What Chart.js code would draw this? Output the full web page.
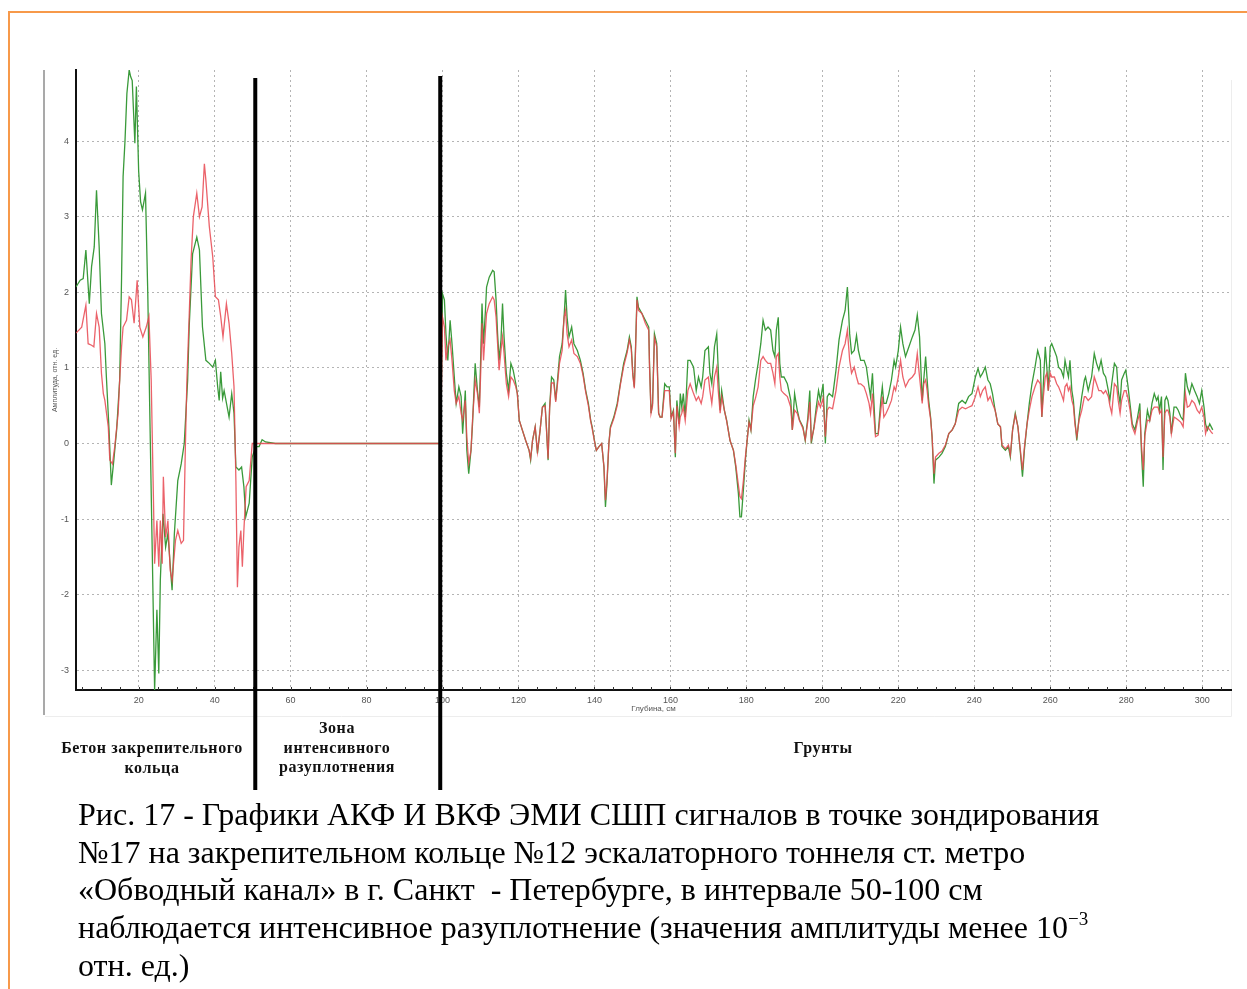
<!DOCTYPE html>
<html>
<head>
<meta charset="utf-8">
<title>АКФ и ВКФ ЭМИ СШП сигналов</title>
<script src="https://cdn.jsdelivr.net/npm/chart.js@4.4.1/dist/chart.umd.min.js"></script>
<style>
  body { margin: 0; background: #fff; }
  #page { position: relative; width: 1247px; height: 989px; overflow: hidden; }
  #frame { position: absolute; left: 8px; top: 11px; width: 1260px; height: 1000px;
           border-top: 2px solid #f7994a; border-left: 2px solid #f7994a; }
  #chart { position: absolute; left: 0; top: 0; }
  .zone { position: absolute; font: bold 16px "Liberation Serif", "DejaVu Serif", serif;
          letter-spacing: 0.6px; text-align: center; line-height: 19.5px; color: #111; }
  .caption { position: absolute; left: 78px; top: 796px; font: 32px "Liberation Serif", serif;
             line-height: 37.7px; color: #000; white-space: pre; }
  .caption sup { font-size: 19px; vertical-align: 13px; line-height: 0; }
</style>
</head>
<body>
<div id="page">
  <div id="frame"></div>
  <canvas id="chart" width="1247" height="989"></canvas>

  <div class="zone" style="left:22px; top:738px; width:260px;">Бетон закрепительного<br>кольца</div>
  <div class="zone" style="left:257px; top:718px; width:160px;">Зона<br>интенсивного<br>разуплотнения</div>
  <div class="zone" style="left:763px; top:738px; width:120px;">Грунты</div>

  <div class="caption">Рис. 17 - Графики АКФ И ВКФ ЭМИ СШП сигналов в точке зондирования
№17 на закрепительном кольце №12 эскалаторного тоннеля ст. метро
«Обводный канал» в г. Санкт  - Петербурге, в интервале 50-100 см
наблюдается интенсивное разуплотнение (значения амплитуды менее 10<sup>−3</sup>
отн. ед.)</div>
</div>

<script>
// Глубина, см — for each trace
const vkfDepth = [
  3.5, 4.6, 5.4, 6.1, 7.0, 7.6, 8.3, 8.9, 9.6, 10.2, 11.1, 11.5, 12.2, 12.8, 13.5, 14.2, 15.0, 15.5, 15.9, 16.4,
  16.9, 17.5, 17.9, 18.3, 19.0, 19.4, 20.0, 20.5, 21.0, 21.8, 22.4, 22.9, 23.6, 24.2, 24.8, 25.3, 25.7, 26.4, 27.1, 27.7,
  28.6, 28.8, 29.4, 30.3, 31.2, 32.0, 32.9, 33.3, 34.2, 35.3, 36.0, 36.8, 37.7, 38.6, 39.5, 40.2, 40.8, 41.2, 41.6, 42.1,
  42.5, 43.8, 44.5, 45.1, 45.6, 46.4, 47.1, 47.7, 48.2, 49.1, 49.9, 50.8, 51.7, 52.5, 53.4, 56.0, 99.5,
  100.0, 100.5, 100.9, 101.4, 102.0, 102.5, 103.1, 103.6, 104.3, 104.9, 105.3, 106.0, 106.4, 106.9, 107.5, 107.9, 108.6, 109.2, 109.7, 110.1,
  110.4, 110.8, 111.3, 111.6, 112.3, 113.2, 113.6, 114.1, 114.5, 114.9, 115.4, 115.8, 116.2, 116.8, 117.4, 118.0, 118.6, 119.3, 119.7, 120.2,
  121.0, 121.9, 122.8, 123.2, 123.7, 124.4, 125.0, 125.7, 126.3, 127.0, 127.3, 127.8, 128.2, 128.7, 129.3, 129.8, 130.2, 130.8, 131.5, 132.0,
  132.4, 132.8, 133.3, 134.0, 134.6, 135.5, 136.3, 137.0, 137.7, 138.4, 139.0, 139.4, 140.0, 140.5, 141.2, 141.9, 142.5, 142.9, 143.3, 143.8,
  144.2, 145.1, 146.0, 146.8, 147.7, 148.6, 149.2, 149.7, 150.1, 150.5, 150.8, 151.2, 151.6, 152.5, 153.4, 154.3, 154.5, 154.9, 155.3, 155.8,
  156.4, 156.9, 157.3, 157.8, 158.5, 159.1, 159.7, 160.2, 160.8, 161.3, 161.7, 162.3, 162.6, 163.0, 163.4, 163.9, 164.6, 165.2, 166.1, 166.8,
  167.4, 168.1, 168.5, 169.1, 170.0, 170.4, 170.9, 171.6, 172.2, 172.6, 173.1, 173.5, 174.2, 174.8, 175.7, 176.6, 177.2, 177.9, 178.3, 178.7,
  179.2, 179.8, 180.3, 180.7, 181.2, 181.8, 182.4, 183.1, 183.8, 184.4, 185.0, 185.7, 186.4, 187.0, 187.5, 187.9, 188.4, 188.8, 189.2, 189.9,
  190.8, 191.7, 192.1, 192.7, 193.4, 194.0, 194.9, 195.5, 196.2, 196.7, 197.1, 197.8, 198.4, 199.0, 199.5, 200.2, 200.8, 201.3, 201.8, 202.7,
  203.6, 204.4, 205.3, 206.0, 206.6, 207.2, 207.7, 208.4, 209.0, 209.5, 210.1, 211.0, 211.6, 212.3, 212.7, 213.2, 213.6, 214.0, 214.7, 215.4,
  215.8, 216.2, 216.8, 217.5, 218.2, 218.9, 219.3, 220.0, 220.6, 221.2, 221.9, 222.8, 223.7, 224.4, 225.0, 225.6, 226.3, 226.7, 227.2, 227.6,
  228.0, 228.5, 228.9, 229.4, 229.8, 230.7, 231.5, 232.4, 233.3, 234.2, 235.0, 235.9, 236.8, 237.7, 238.5, 239.4, 240.3, 241.0, 241.6, 242.2,
  242.9, 243.6, 244.2, 244.8, 245.5, 246.2, 246.9, 247.3, 248.2, 249.0, 249.5, 250.1, 250.8, 251.5, 252.1, 252.7, 253.2, 253.9, 254.5, 255.2,
  256.0, 256.7, 257.4, 257.8, 258.2, 258.7, 259.1, 259.5, 260.0, 260.4, 261.1, 261.7, 262.2, 262.9, 263.5, 263.9, 264.4, 264.8, 265.2, 265.7,
  266.1, 266.5, 267.0, 267.6, 268.3, 269.0, 269.3, 270.0, 270.9, 271.6, 272.2, 272.8, 273.4, 274.0, 274.6, 275.3, 275.7, 276.2, 276.9, 277.5,
  277.9, 278.4, 278.8, 279.5, 279.9, 280.4, 281.0, 281.6, 282.3, 283.0, 283.6, 284.0, 284.5, 284.9, 285.6, 286.2, 286.8, 287.4, 288.0, 288.4,
  288.8, 289.3, 289.7, 290.2, 290.6, 291.0, 291.5, 291.9, 292.6, 293.2, 293.7, 294.4, 295.0, 295.6, 296.1, 296.7, 297.3, 298.0, 298.7, 299.3,
  299.9, 300.5, 300.9, 301.4, 302.0, 302.4, 302.8
];
// ВКФ, отн. ед. (green trace)
const vkfAmp = [
  2.07, 2.16, 2.18, 2.56, 1.85, 2.34, 2.6, 3.35, 2.6, 1.72, 1.32, 0.88, 0.18, -0.55, -0.2, 0.18, 0.84, 2.2, 3.53, 4.0,
  4.63, 4.94, 4.85, 4.8, 3.97, 4.72, 3.6, 3.2, 3.09, 3.31, 1.98, 0.5, -1.5, -3.26, -2.2, -3.04, -1.81, -0.93, -1.37, -1.19,
  -1.81, -1.94, -1.19, -0.49, -0.27, 0.0, 0.84, 1.54, 2.51, 2.73, 2.56, 1.54, 1.1, 1.06, 1.01, 1.1, 0.75, 0.57, 0.95, 0.6,
  0.7, 0.35, 0.66, 0.4, -0.31, -0.35, -0.31, -0.57, -0.97, -0.79, -0.18, -0.04, -0.04, 0.05, 0.02, 0.0, 0.0,
  1.98, 1.9, 1.45, 1.1, 1.63, 1.32, 0.88, 0.53, 0.75, 0.62, 0.13, 0.7, -0.09, -0.4, -0.09, 0.26, 1.06, 0.7, 0.48, 1.23,
  1.85, 1.32, 1.76, 2.07, 2.2, 2.29, 2.27, 1.9, 1.45, 1.1, 1.37, 1.85, 1.41, 0.93, 0.7, 1.06, 0.97, 0.79, 0.66, 0.31,
  0.18, 0.04, -0.09, -0.22, 0.04, 0.22, -0.13, 0.18, 0.48, 0.53, 0.26, -0.22, 0.48, 0.88, 0.84, 0.57, 0.79, 1.15, 1.32, 1.67,
  2.03, 1.67, 1.41, 1.54, 1.32, 1.23, 1.1, 0.93, 0.7, 0.53, 0.31, 0.22, 0.04, -0.09, -0.04, 0.0, -0.31, -0.84, -0.53, 0.0,
  0.22, 0.35, 0.53, 0.79, 1.06, 1.23, 1.41, 1.28, 0.93, 0.75, 1.23, 1.94, 1.8, 1.72, 1.63, 1.54, 1.06, 0.4, 0.53, 1.45,
  1.32, 0.4, 0.35, 0.35, 0.79, 0.75, 0.75, 0.35, 0.44, -0.18, 0.57, 0.26, 0.66, 0.48, 0.66, 0.35, 1.1, 1.1, 1.01, 0.7,
  0.88, 0.75, 0.88, 1.23, 1.28, 0.93, 0.79, 1.28, 1.45, 0.97, 0.44, 0.7, 0.44, 0.31, 0.04, -0.09, -0.31, -0.66, -0.97, -0.97,
  -0.62, -0.18, 0.09, 0.31, 0.18, 0.62, 0.84, 1.06, 1.32, 1.63, 1.5, 1.54, 1.5, 1.23, 1.15, 1.5, 1.67, 1.06, 0.88, 0.88,
  0.79, 0.57, 0.18, 0.66, 0.44, 0.31, 0.22, 0.04, 0.35, 0.7, 0.0, 0.22, 0.48, 0.7, 0.57, 0.79, 0.0, 0.62, 0.66, 0.62,
  0.97, 1.37, 1.63, 1.76, 2.07, 1.45, 1.19, 1.23, 1.43, 1.23, 1.1, 1.1, 1.01, 0.75, 0.62, 0.93, 0.53, 0.13, 0.13, 0.57,
  0.75, 0.53, 0.53, 0.66, 0.84, 1.1, 1.01, 1.23, 1.54, 1.32, 1.15, 1.28, 1.41, 1.5, 1.7, 1.41, 0.57, 0.84, 1.15, 0.84,
  0.57, 0.35, 0.09, -0.53, -0.22, -0.18, -0.13, -0.04, 0.13, 0.18, 0.26, 0.53, 0.57, 0.53, 0.62, 0.66, 0.88, 0.99, 0.88, 0.93,
  1.01, 0.84, 0.79, 0.66, 0.44, 0.26, 0.22, -0.04, -0.09, -0.04, -0.18, 0.18, 0.4, 0.22, -0.09, -0.44, -0.09, 0.26, 0.53, 0.79,
  1.01, 1.23, 1.1, 0.35, 0.79, 1.28, 1.01, 0.7, 1.28, 1.32, 1.23, 1.15, 1.01, 0.97, 0.88, 1.1, 0.97, 0.88, 1.1, 0.7,
  0.57, 0.31, 0.04, 0.35, 0.62, 0.84, 0.88, 0.7, 0.88, 1.19, 1.06, 0.97, 1.1, 0.93, 0.88, 0.7, 0.57, 0.79, 1.06, 1.01,
  0.7, 0.53, 0.84, 0.93, 0.97, 0.79, 0.53, 0.26, 0.18, 0.35, 0.53, -0.09, -0.57, 0.13, 0.44, 0.31, 0.53, 0.66, 0.57, 0.62,
  0.44, 0.62, -0.35, 0.57, 0.62, 0.57, 0.4, 0.13, 0.48, 0.48, 0.44, 0.35, 0.31, 0.93, 0.75, 0.66, 0.79, 0.7, 0.62, 0.53,
  0.7, 0.48, 0.26, 0.18, 0.26, 0.22, 0.18
];

const akfDepth = [
  3.5, 5.0, 6.1, 6.7, 7.6, 8.2, 8.9, 9.6, 10.2, 10.7, 11.1, 12.0, 12.4, 13.1, 13.7, 14.6, 15.0, 15.5, 15.9, 16.8,
  17.5, 18.1, 18.8, 19.6, 20.3, 21.1, 22.0, 22.7, 23.3, 23.8, 24.2, 24.8, 25.3, 25.7, 26.2, 26.5, 27.1, 27.7, 28.3, 28.8,
  29.7, 30.3, 31.2, 31.8, 32.3, 32.7, 33.2, 33.8, 34.4, 35.3, 36.0, 36.7, 37.3, 37.7, 38.6, 39.5, 40.2, 41.0, 41.6, 42.2,
  43.1, 43.8, 44.5, 45.1, 45.6, 46.0, 46.4, 46.9, 47.3, 47.7, 48.3, 49.1, 49.9, 99.5,
  100.0, 100.5, 100.9, 101.4, 102.0, 102.5, 103.1, 103.6, 104.3, 104.9, 105.3, 106.0, 106.4, 106.9, 107.5, 107.9, 108.6, 109.2, 109.7, 110.1,
  110.4, 110.8, 111.3, 111.6, 112.3, 113.2, 113.6, 114.1, 114.5, 114.9, 115.4, 115.8, 116.2, 116.8, 117.4, 118.0, 118.6, 119.3, 119.7, 120.2,
  121.0, 121.9, 122.8, 123.2, 123.7, 124.4, 125.0, 125.7, 126.3, 127.0, 127.3, 127.8, 128.2, 128.7, 129.3, 129.8, 130.2, 130.8, 131.5, 132.0,
  132.4, 132.8, 133.3, 134.0, 134.6, 135.5, 136.3, 137.0, 137.7, 138.4, 139.0, 139.4, 140.0, 140.5, 141.2, 141.9, 142.5, 142.9, 143.3, 143.8,
  144.2, 145.1, 146.0, 146.8, 147.7, 148.6, 149.2, 149.7, 150.1, 150.5, 150.8, 151.2, 151.6, 152.5, 153.4, 154.3, 154.5, 154.9, 155.3, 155.8,
  156.4, 156.9, 157.3, 157.8, 158.5, 159.1, 159.7, 160.2, 160.8, 161.3, 161.7, 162.3, 162.6, 163.0, 163.4, 163.9, 164.6, 165.2, 166.1, 166.8,
  167.4, 168.1, 168.5, 169.1, 170.0, 170.4, 170.9, 171.6, 172.2, 172.6, 173.1, 173.5, 174.2, 174.8, 175.7, 176.6, 177.2, 177.9, 178.3, 178.7,
  179.2, 179.8, 180.3, 180.7, 181.2, 181.8, 182.4, 183.1, 183.8, 184.4, 185.0, 185.7, 186.4, 187.0, 187.5, 187.9, 188.4, 188.8, 189.2, 189.9,
  190.8, 191.7, 192.1, 192.7, 193.4, 194.0, 194.9, 195.5, 196.2, 196.7, 197.1, 197.8, 198.4, 199.0, 199.5, 200.2, 200.8, 201.3, 201.8, 202.7,
  203.6, 204.4, 205.3, 206.0, 206.6, 207.2, 207.7, 208.4, 209.0, 209.5, 210.1, 211.0, 211.6, 212.3, 212.7, 213.2, 213.6, 214.0, 214.7, 215.4,
  215.8, 216.2, 216.8, 217.5, 218.2, 218.9, 219.3, 220.0, 220.6, 221.2, 221.9, 222.8, 223.7, 224.4, 225.0, 225.6, 226.3, 226.7, 227.2, 227.6,
  228.0, 228.5, 228.9, 229.4, 229.8, 230.7, 231.5, 232.4, 233.3, 234.2, 235.0, 235.9, 236.8, 237.7, 238.5, 239.4, 240.3, 241.0, 241.6, 242.2,
  242.9, 243.6, 244.2, 244.8, 245.5, 246.2, 246.9, 247.3, 248.2, 249.0, 249.5, 250.1, 250.8, 251.5, 252.1, 252.7, 253.2, 253.9, 254.5, 255.2,
  256.0, 256.7, 257.4, 257.8, 258.2, 258.7, 259.1, 259.5, 260.0, 260.4, 261.1, 261.7, 262.2, 262.9, 263.5, 263.9, 264.4, 264.8, 265.2, 265.7,
  266.1, 266.5, 267.0, 267.6, 268.3, 269.0, 269.3, 270.0, 270.9, 271.6, 272.2, 272.8, 273.4, 274.0, 274.6, 275.3, 275.7, 276.2, 276.9, 277.5,
  277.9, 278.4, 278.8, 279.5, 279.9, 280.4, 281.0, 281.6, 282.3, 283.0, 283.6, 284.0, 284.5, 284.9, 285.6, 286.2, 286.8, 287.4, 288.0, 288.4,
  288.8, 289.3, 289.7, 290.2, 290.6, 291.0, 291.5, 291.9, 292.6, 293.2, 293.7, 294.4, 295.0, 295.6, 296.1, 296.7, 297.3, 298.0, 298.7, 299.3,
  299.9, 300.5, 300.9, 301.4, 302.0, 302.4, 302.8
];
// АКФ, отн. ед. (red trace)
const akfAmp = [
  1.46, 1.54, 1.83, 1.32, 1.3, 1.28, 1.72, 1.54, 0.93, 0.66, 0.57, 0.22, -0.22, -0.27, -0.04, 0.4, 0.84, 1.28, 1.54, 1.63,
  1.94, 1.9, 1.59, 2.16, 1.54, 1.41, 1.54, 1.68, 0.84, -0.49, -1.59, -1.02, -1.63, -1.02, -1.59, -0.44, -1.24, -1.02, -1.68, -1.81,
  -1.28, -1.15, -1.32, -1.28, -0.04, 0.84, 1.54, 2.43, 3.0, 3.31, 3.0, 3.13, 3.7, 3.48, 2.87, 2.47, 1.94, 1.9, 1.68, 1.41,
  1.85, 1.59, 1.19, 0.75, -0.49, -1.9, -1.37, -1.15, -1.63, -1.15, -0.57, -0.49, 0.0, 0.0,
  1.67, 1.54, 1.1, 1.28, 1.37, 1.1, 0.7, 0.53, 0.62, 0.4, 0.31, 0.57, 0.09, -0.26, -0.09, 0.31, 0.84, 0.66, 0.4, 1.01,
  1.59, 1.1, 1.5, 1.72, 1.85, 1.94, 1.9, 1.67, 1.32, 0.97, 1.23, 1.41, 1.19, 0.79, 0.62, 0.88, 0.84, 0.75, 0.66, 0.31,
  0.18, 0.04, -0.09, -0.2, 0.04, 0.22, -0.11, 0.18, 0.48, 0.5, 0.26, -0.2, 0.46, 0.8, 0.8, 0.55, 0.75, 1.06, 1.23, 1.67,
  1.76, 1.45, 1.28, 1.37, 1.19, 1.15, 1.06, 0.9, 0.68, 0.5, 0.3, 0.2, 0.03, -0.09, -0.04, 0.0, -0.3, -0.75, -0.5, 0.0,
  0.2, 0.33, 0.5, 0.77, 1.02, 1.2, 1.37, 1.25, 0.9, 0.73, 1.2, 1.9, 1.76, 1.72, 1.59, 1.5, 1.02, 0.4, 0.5, 1.4,
  1.28, 0.4, 0.35, 0.35, 0.7, 0.7, 0.7, 0.33, 0.42, -0.13, 0.5, 0.22, 0.35, 0.4, 0.48, 0.3, 0.7, 0.79, 0.66, 0.57,
  0.62, 0.53, 0.62, 0.84, 0.88, 0.7, 0.53, 0.88, 1.01, 0.7, 0.4, 0.62, 0.44, 0.3, 0.04, -0.09, -0.28, -0.55, -0.7, -0.73,
  -0.5, -0.15, 0.09, 0.28, 0.18, 0.5, 0.6, 0.75, 1.1, 1.15, 1.1, 1.06, 1.06, 0.93, 0.79, 1.15, 1.19, 0.88, 0.7, 0.66,
  0.62, 0.48, 0.18, 0.44, 0.4, 0.3, 0.2, 0.05, 0.3, 0.55, 0.05, 0.2, 0.4, 0.55, 0.48, 0.6, 0.09, 0.44, 0.48, 0.46,
  0.7, 1.01, 1.23, 1.32, 1.5, 1.1, 0.93, 1.01, 0.88, 0.79, 0.79, 0.75, 0.66, 0.53, 0.4, 0.66, 0.35, 0.09, 0.11, 0.44,
  0.62, 0.35, 0.4, 0.48, 0.57, 0.75, 0.7, 0.88, 1.1, 0.88, 0.75, 0.84, 0.88, 0.93, 1.19, 0.88, 0.53, 0.79, 0.84, 0.7,
  0.5, 0.33, 0.09, -0.4, -0.18, -0.13, -0.1, -0.02, 0.13, 0.18, 0.26, 0.44, 0.48, 0.46, 0.48, 0.5, 0.62, 0.75, 0.62, 0.7,
  0.75, 0.57, 0.62, 0.53, 0.44, 0.26, 0.22, -0.02, -0.07, -0.02, -0.15, 0.18, 0.38, 0.22, -0.07, -0.35, -0.05, 0.26, 0.44, 0.62,
  0.75, 0.84, 0.79, 0.35, 0.62, 0.88, 0.93, 0.7, 0.93, 0.88, 0.88, 0.79, 0.75, 0.66, 0.57, 0.75, 0.79, 0.7, 0.75, 0.57,
  0.5, 0.26, 0.09, 0.31, 0.44, 0.62, 0.62, 0.57, 0.62, 0.88, 0.79, 0.7, 0.7, 0.66, 0.7, 0.62, 0.5, 0.4, 0.79, 0.75,
  0.57, 0.4, 0.57, 0.7, 0.7, 0.62, 0.45, 0.22, 0.13, 0.3, 0.4, 0.0, -0.35, 0.1, 0.31, 0.3, 0.44, 0.48, 0.48, 0.48,
  0.4, 0.44, -0.18, 0.4, 0.44, 0.44, 0.35, 0.13, 0.35, 0.33, 0.31, 0.28, 0.22, 0.66, 0.48, 0.5, 0.57, 0.53, 0.44, 0.4,
  0.48, 0.35, 0.13, 0.22, 0.18, 0.15, 0.13
];

const xTicks = [20, 40, 60, 80, 100, 120, 140, 160, 180, 200, 220, 240, 260, 280, 300];
const yTicks = [-3, -2, -1, 0, 1, 2, 3, 4];
const zoneEdges = [50.7, 99.4];   // границы зоны разуплотнения, см

function toPoints(xs, ys) {
  return xs.map((x, i) => ({ x: x, y: ys[i] }));
}

// frame of the plot picture, minor ticks and zone boundaries
const decor = {
  id: 'decor',
  beforeDraw(chart) {
    const { ctx, chartArea: a } = chart;
    ctx.save();
    ctx.strokeStyle = '#a9a9a9';
    ctx.lineWidth = 2;
    ctx.beginPath();
    ctx.moveTo(a.left - 32, a.top);
    ctx.lineTo(a.left - 32, a.bottom + 25);
    ctx.stroke();
    ctx.strokeStyle = '#ededed';
    ctx.lineWidth = 1;
    ctx.beginPath();
    ctx.moveTo(a.left - 31, a.bottom + 26.5);
    ctx.lineTo(a.right + 0.5, a.bottom + 26.5);
    ctx.lineTo(a.right + 0.5, a.top + 10);
    ctx.stroke();
    ctx.restore();
  },
  afterDraw(chart) {
    const { ctx, chartArea: a, scales: { x } } = chart;
    ctx.save();
    ctx.strokeStyle = '#333';
    ctx.lineWidth = 1;
    for (let v = 5; v < x.max; v += 5) {
      const px = Math.round(x.getPixelForValue(v)) + 0.5;
      ctx.beginPath();
      ctx.moveTo(px, a.bottom);
      ctx.lineTo(px, a.bottom - 3);
      ctx.stroke();
    }
    ctx.strokeStyle = '#000';
    ctx.lineWidth = 4;
    zoneEdges.forEach((v, i) => {
      const px = x.getPixelForValue(v);
      ctx.beginPath();
      ctx.moveTo(px, a.top + (i === 0 ? 8 : 6));
      ctx.lineTo(px, a.bottom + 100);
      ctx.stroke();
    });
    ctx.restore();
  }
};

const tickFont = { family: 'Arial, "Liberation Sans", sans-serif', size: 9 };

new Chart(document.getElementById('chart'), {
  type: 'line',
  data: {
    datasets: [
      {
        label: 'ВКФ',
        data: toPoints(vkfDepth, vkfAmp),
        borderColor: '#3a9a3a',
        borderWidth: 1.3,
        pointRadius: 0,
        tension: 0,
        order: 2
      },
      {
        label: 'АКФ',
        data: toPoints(akfDepth, akfAmp),
        borderColor: 'rgba(232, 70, 80, 0.85)',
        borderWidth: 1.3,
        pointRadius: 0,
        tension: 0,
        order: 1
      }
    ]
  },
  options: {
    responsive: false,
    animation: false,
    events: [],
    layout: { padding: { left: 40, top: 70, right: 16, bottom: 269 } },
    plugins: { legend: { display: false }, tooltip: { enabled: false } },
    scales: {
      x: {
        type: 'linear',
        min: 3.5,
        max: 307.6,
        afterFit: s => { s.height = 30; },
        afterBuildTicks: s => { s.ticks = xTicks.map(v => ({ value: v })); },
        grid: { color: '#b4b4b4', lineWidth: 1, drawTicks: false },
        border: { color: '#111', width: 2, dash: [2, 3] },
        ticks: { color: '#555', font: tickFont, padding: 5, maxRotation: 0, autoSkip: false },
        title: { display: true, text: 'Глубина, см', color: '#555',
                 font: { family: 'Arial, "Liberation Sans", sans-serif', size: 8 },
                 padding: { top: 0, bottom: 6 } }
      },
      y: {
        min: -3.26,
        max: 4.94,
        afterFit: s => { s.width = 36; },
        afterBuildTicks: s => { s.ticks = yTicks.map(v => ({ value: v })); },
        grid: { color: '#b4b4b4', lineWidth: 1, drawTicks: false },
        border: { color: '#111', width: 2, dash: [2, 3] },
        ticks: { color: '#555', font: tickFont, padding: 7 },
        title: { display: true, text: 'Амплитуда, отн. ед.', color: '#555',
                 font: { family: 'Arial, "Liberation Sans", sans-serif', size: 7 },
                 padding: { top: 11, bottom: 0 } }
      }
    }
  },
  plugins: [decor]
});
</script>
</body>
</html>
